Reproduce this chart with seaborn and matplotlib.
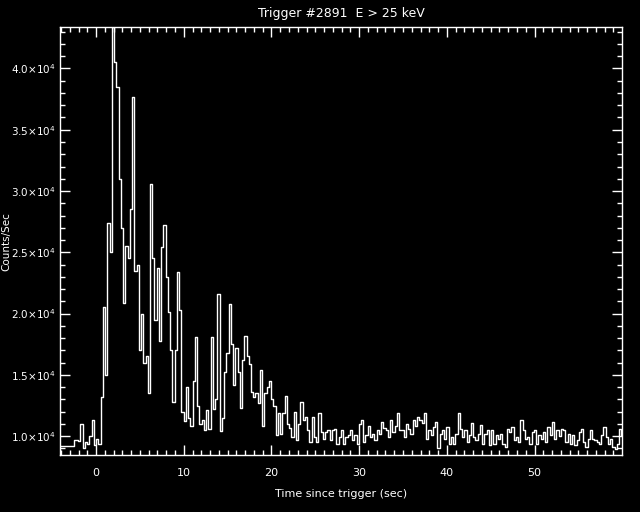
import numpy as np
import pandas as pd
import matplotlib
matplotlib.use("Agg")
import matplotlib.pyplot as plt
import matplotlib.ticker as mticker
import seaborn as sns

# BATSE-style light curve, trigger 2891, E > 25 keV
# two coarse pre-trigger bins, then 0.256 s bins
PRE_EDGES = [-4.096, -2.56]
PRE_RATES = [9.18, 9.67]          # counts/sec in units of 1e3
BIN_START = -2.048
BIN_WIDTH = 0.256

RATES = [
    # -2.048 .. 0.768
    9.6, 11.0, 9.0, 9.5, 9.4, 10.0, 11.3, 9.3, 9.8, 9.4, 13.2, 20.5,
    # 1.024 .. 3.84
    15.0, 27.4, 25.0, 43.4, 40.5, 38.5, 31.0, 27.0, 20.9, 25.5, 24.5, 28.5,
    # 4.096 .. 6.912
    37.7, 23.5, 24.0, 17.0, 20.0, 16.0, 16.5, 13.5, 30.6, 24.5, 19.5, 23.7,
    # 7.168 .. 9.984
    17.8, 25.4, 27.2, 23.0, 20.1, 17.0, 12.8, 17.0, 23.4, 20.3, 12.0, 11.2,
    # 10.24 .. 13.056
    14.0, 11.5, 10.8, 14.5, 18.1, 12.5, 11.0, 11.3, 10.5, 12.1, 10.6, 18.1,
    # 13.312 .. 16.128
    12.2, 13.0, 21.6, 10.4, 11.5, 15.2, 16.8, 20.8, 17.5, 14.2, 17.2, 15.2,
    # 16.384 .. 19.2
    12.3, 16.2, 18.2, 16.5, 15.9, 13.6, 13.2, 13.5, 12.7, 15.4, 10.8, 13.5,
    # 19.456 .. 22.272
    14.0, 14.5, 13.0, 12.5, 10.1, 11.9, 10.2, 11.9, 13.3, 11.0, 10.7, 9.95,
    # 22.784 .. 25.6
    12.0, 9.7, 11.0, 12.75, 11.3, 11.6, 10.5, 9.5, 11.6, 9.95, 9.5, 11.9,
    # 25.856 .. 28.672
    10.3, 9.8, 10.3, 10.5, 9.7, 10.5, 10.6, 9.4, 9.95, 10.5, 9.4, 9.95,
    # 28.928 .. 31.744
    10.1, 10.5, 9.7, 10.1, 9.4, 11.0, 11.3, 9.5, 10.1, 10.85, 9.95, 10.2,
    # 32.0 .. 34.816
    9.7, 10.5, 10.2, 11.15, 10.7, 10.5, 9.95, 11.3, 10.3, 10.85, 11.85, 10.5,
    # 35.072 .. 37.888
    10.5, 9.95, 11.0, 10.6, 10.2, 11.3, 10.85, 11.6, 11.3, 11.05, 11.9, 9.8,
    # 38.144 .. 40.96
    10.5, 10.1, 10.75, 11.15, 9.0, 10.2, 10.5, 9.8, 10.75, 9.4, 9.95, 9.4,
    # 41.216 .. 44.032
    10.2, 11.85, 10.6, 9.95, 10.5, 9.55, 10.1, 11.05, 9.95, 9.67, 10.2, 10.9,
    # 44.288 .. 47.104
    9.4, 10.2, 10.5, 9.25, 10.5, 9.4, 10.1, 9.8, 10.2, 9.4, 9.1, 10.55,
    # 47.36 .. 50.176
    10.35, 10.75, 9.67, 9.95, 9.55, 11.3, 10.5, 9.8, 9.95, 9.4, 10.35, 10.5,
    # 50.432 .. 53.248
    9.4, 10.1, 9.8, 10.35, 9.55, 10.75, 10.1, 11.15, 9.8, 10.5, 10.0, 10.6,
    # 53.504 .. 56.32
    10.5, 9.55, 10.2, 9.4, 10.1, 9.25, 9.67, 10.35, 10.6, 9.55, 9.1, 9.8,
    # 56.576 .. 59.392
    10.5, 9.8, 9.67, 9.55, 9.4, 10.1, 10.75, 9.95, 9.4, 9.8, 9.1, 8.95,
    # 59.648 .. 59.904
    9.4, 10.6, 10.1,
]

TITLE = "Trigger #2891  E > 25 keV"
XLABEL = "Time since trigger (sec)"
YLABEL = "Counts/Sec"
XLIM = (-4.1, 59.98)
YLIM = (8450, 43370)

# build the step table
times = list(PRE_EDGES) + list(BIN_START + BIN_WIDTH * np.arange(len(RATES)))
rates = list(PRE_RATES) + list(RATES)
times.append(times[-1] + BIN_WIDTH)
rates.append(rates[-1])
df = pd.DataFrame({"time": times, "rate": np.array(rates) * 1000.0})

sns.set_theme(style="dark", rc={
    "figure.facecolor": "black",
    "axes.facecolor": "black",
    "axes.edgecolor": "white",
    "axes.labelcolor": "white",
    "text.color": "white",
    "xtick.color": "white",
    "ytick.color": "white",
})
plt.rcParams["font.family"] = ["DejaVu Sans"]

fig = plt.figure(figsize=(6.4, 5.12), dpi=100)
ax = fig.add_axes([0.094, 0.111, 0.878, 0.836])

sns.lineplot(data=df, x="time", y="rate", ax=ax, color="white", linewidth=1.0,
             drawstyle="steps-post", estimator=None, sort=False)

ax.set_xlim(*XLIM)
ax.set_ylim(*YLIM)
ax.grid(False)
for s in ax.spines.values():
    s.set_color("white")
    s.set_linewidth(1.0)

ax.xaxis.set_major_locator(mticker.MultipleLocator(10))
ax.xaxis.set_minor_locator(mticker.MultipleLocator(1))
ax.yaxis.set_major_locator(mticker.MultipleLocator(5000))
ax.yaxis.set_minor_locator(mticker.MultipleLocator(1000))
ax.yaxis.set_major_formatter(mticker.FuncFormatter(
    lambda v, p: "%.1f×10$^{4}$" % (v / 1e4)))

ax.tick_params(which="both", direction="in", top=True, right=True,
               bottom=True, left=True, colors="white")
ax.tick_params(which="major", length=7, width=1)
ax.tick_params(which="minor", length=3.5, width=1)
ax.tick_params(axis="x", which="major", labelsize=8, pad=9)
ax.tick_params(axis="y", which="major", labelsize=7.5, pad=3)

ax.set_title(TITLE, fontsize=9, color="white", pad=7)
ax.set_xlabel(XLABEL, fontsize=8, labelpad=8)
ax.set_ylabel(YLABEL, fontsize=7.5)
ax.yaxis.set_label_coords(-0.087, 0.5)

fig.savefig("out.png", dpi=100, facecolor="black")
